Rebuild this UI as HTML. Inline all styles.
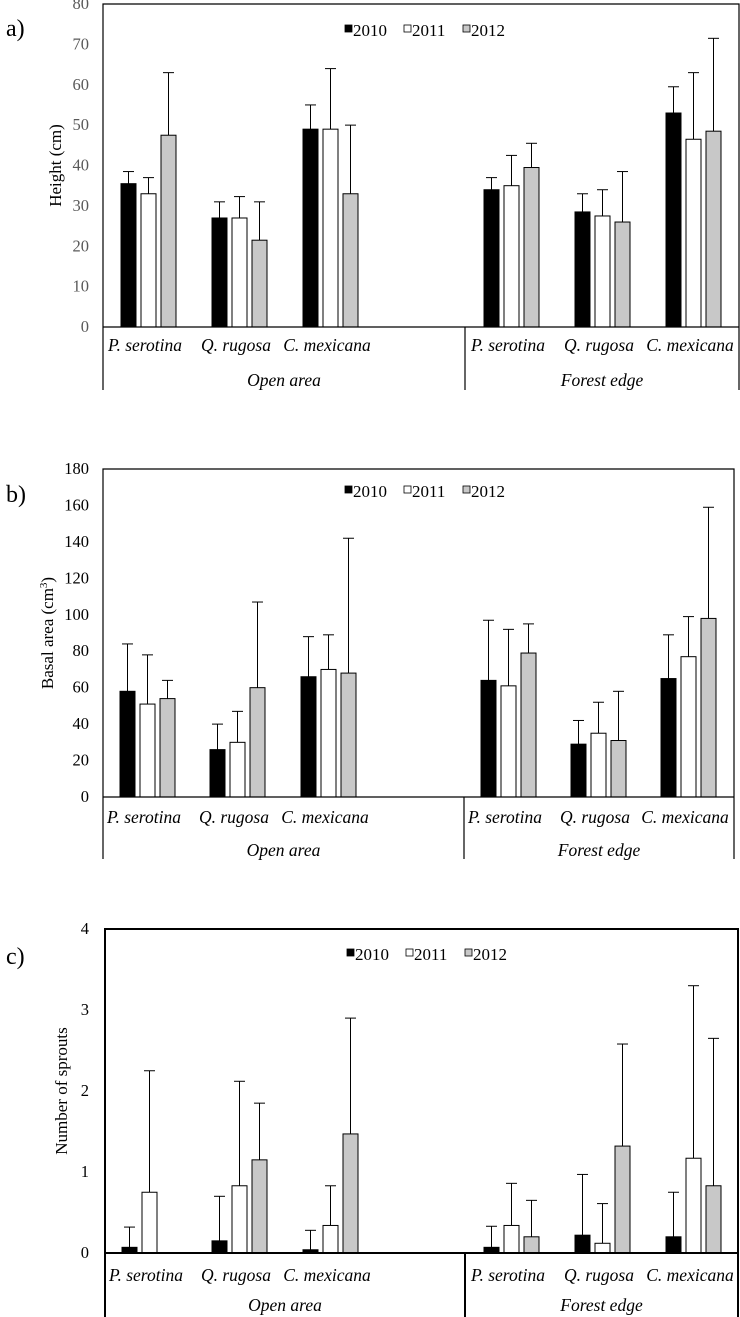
<!DOCTYPE html>
<html><head><meta charset="utf-8"><style>
html,body{margin:0;padding:0;background:#fff;}
svg{display:block;font-family:"Liberation Serif",serif;}
</style></head><body>
<svg id="s" width="740" height="1317" xmlns="http://www.w3.org/2000/svg"></svg>
<script>
const S=document.getElementById('s');let h='';
function panel(o){
 const {top,zero,max,step,L,R,sep,ylab,ylx,tickCol,bars,xs,labY,grpY,botY,sw,lbl,lblY,legY,legX}=o;
 const sc=(zero-top)/max;
 h+=`<text x="6" y="${lblY}" font-size="24">${lbl}</text>`;
 for(let v=0;v<=max+1e-9;v+=step){const y=zero-v*sc;h+=`<text x="89" y="${y+5}" font-size="16.5" text-anchor="end" fill="${tickCol}">${+v.toFixed(0)}</text>`;}
 h+=`<text transform="translate(${ylx},${(top+zero)/2}) rotate(-90)" font-size="17" text-anchor="middle">${ylab}</text>`;
 const cols=['#000','#fff','#c8c8c8'];
 bars.forEach((g,gi)=>{g.forEach((b,bi)=>{const x=xs[gi]+bi*20;const yv=zero-b[0]*sc;const ye=zero-b[1]*sc;
  h+=`<line x1="${x+7.5}" y1="${ye}" x2="${x+7.5}" y2="${yv}" stroke="#000" stroke-width="1"/><line x1="${x+2}" y1="${ye}" x2="${x+13}" y2="${ye}" stroke="#000"/>`;
  if(b[0]>0)h+=`<rect x="${x}" y="${yv}" width="15" height="${zero-yv}" fill="${cols[bi]}" stroke="#000" stroke-width="1"/>`;});});
 h+=`<path d="M${L} ${botY} V${top} H${R} V${botY} M${sep} ${zero} V${botY} M${L} ${zero} H${R}" fill="none" stroke="#000" stroke-width="${sw}"/>`;
 const names=['P. serotina','Q. rugosa','C. mexicana'];
 xs.forEach((x,i)=>{h+=`<text x="${x+24}" y="${labY}" font-size="17.5" font-style="italic" text-anchor="middle">${names[i%3]}</text>`;});
 h+=`<text x="${(L+sep)/2}" y="${grpY}" font-size="17.5" font-style="italic" text-anchor="middle">Open area</text>`;
 h+=`<text x="${(sep+R)/2}" y="${grpY}" font-size="17.5" font-style="italic" text-anchor="middle">Forest edge</text>`;
 const ly=legY;
 [['#000','2010'],['#fff','2011'],['#c8c8c8','2012']].forEach((c,i)=>{const x=legX+i*59;h+=`<rect x="${x}" y="${ly-11}" width="7" height="7" fill="${c[0]}" stroke="#000" stroke-width="0.8"/><text x="${x+8}" y="${ly}" font-size="17">${c[1]}</text>`;});
}
panel({top:4,zero:327,max:80,step:10,L:103,R:739,sep:465,ylab:'Height (cm)',ylx:61,tickCol:'#595959',
 xs:[121,212,303,484,575,666],labY:351,grpY:386,botY:390,sw:1.2,lbl:'a)',lblY:36,legY:36,legX:345,
 bars:[[[35.5,38.5],[33,37],[47.5,63]],[[27,31],[27,32.3],[21.5,31]],[[49,55],[49,64],[33,50]],
 [[34,37],[35,42.5],[39.5,45.5]],[[28.5,33],[27.5,34],[26,38.5]],[[53,59.5],[46.5,63],[48.5,71.5]]]});
panel({top:469,zero:797,max:180,step:20,L:103,R:734,sep:464,ylab:'Basal area (cm<tspan dy="-6" font-size="11">3</tspan><tspan dy="6">)</tspan>',ylx:53,tickCol:'#000',
 xs:[120,210,301,481,571,661],labY:823,grpY:856,botY:859,sw:1.2,lbl:'b)',lblY:502,legY:497,legX:345,
 bars:[[[58,84],[51,78],[54,64]],[[26,40],[30,47],[60,107]],[[66,88],[70,89],[68,142]],
 [[64,97],[61,92],[79,95]],[[29,42],[35,52],[31,58]],[[65,89],[77,99],[98,159]]]});
panel({top:929,zero:1253,max:4,step:1,L:105,R:738,sep:465,ylab:'Number of sprouts',ylx:67,tickCol:'#000',
 xs:[122,212,303,484,575,666],labY:1281,grpY:1311,botY:1317,sw:2,lbl:'c)',lblY:964,legY:960,legX:347,
 bars:[[[0.07,0.32],[0.75,2.25],[0,0]],[[0.15,0.7],[0.83,2.12],[1.15,1.85]],[[0.04,0.28],[0.34,0.83],[1.47,2.9]],
 [[0.07,0.33],[0.34,0.86],[0.2,0.65]],[[0.22,0.97],[0.12,0.61],[1.32,2.58]],[[0.2,0.75],[1.17,3.3],[0.83,2.65]]]});
S.innerHTML=h;
</script>
</body></html>
